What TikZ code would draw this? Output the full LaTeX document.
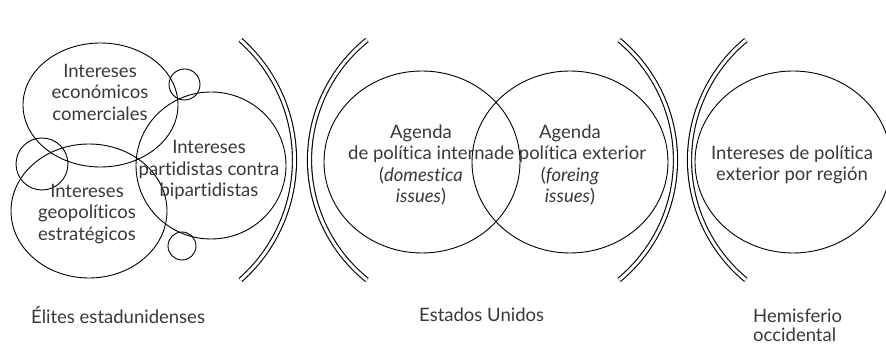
\documentclass[tikz,border=0pt]{standalone}
\usepackage{fontspec}
\setmainfont{Lato}[Ligatures=NoCommon]
\usepackage{tikz}

\begin{document}
\begin{tikzpicture}[x=1pt, y=-1pt,
    txt/.style={inner sep=0pt, align=center, text=black!78,
      font=\fontsize{18.5}{21.5}\selectfont},
    rotulo/.style={inner sep=0pt, align=left, text=black!78,
      font=\fontsize{18.5}{19}\selectfont},
    arco/.style={double, double distance=3pt, line width=1.1pt},
    circ/.style={line width=0.9pt}]
      \useasboundingbox (0, 0) rectangle (886, 344);
      \clip (0, 0) rectangle (886, 344);
      % elites
      \draw[circ] (100.5, 105) ellipse [x radius=77.5, y radius=62];
      \draw[circ] (211, 165.5) ellipse [x radius=75, y radius=73.5];
      \draw[circ] (89, 211) ellipse [x radius=78, y radius=67];
      \draw[circ] (184.5, 84.5) circle [radius=15.5];
      \draw[circ] (42, 164) circle [radius=26];
      \draw[circ] (182, 246) circle [radius=14];
      \node[txt] (econ) at (100, 92) {Intereses\\económicos\\comerciales};
      \node[txt] (partid) at (209, 170) {Intereses\\partidistas contra\\bipartidistas};
      \node[txt] (geo) at (87, 214) {Intereses\\geopolíticos\\estratégicos};
      % separadores
      \draw[arco] (134.2, 160) ++(-48.5:160.3) arc[start angle=-48.5, end angle=48.5, radius=160.3];
      \draw[arco] (463.5, 160) ++(231.2:154) arc[start angle=231.2, end angle=128.8, radius=154];
      \draw[arco] (519.8, 160) ++(-50.4:155.7) arc[start angle=-50.4, end angle=50.4, radius=155.7];
      \draw[arco] (845.2, 160) ++(230.4:155.7) arc[start angle=230.4, end angle=129.6, radius=155.7];
      % Estados Unidos
      \draw[circ] (422, 162) ellipse [x radius=98, y radius=91];
      \draw[circ] (570, 162) ellipse [x radius=98, y radius=91];
      \node[txt] (interna) at (421, 165) {Agenda\\de política interna\\(\textit{domestica}\\\textit{issues})};
      \node[txt] (exterior) at (570, 165) {Agenda\\de política exterior\\(\textit{foreing}\\\textit{issues})};
      % hemisferio
      \draw[circ] (793, 162) ellipse [x radius=98, y radius=91];
      \node[txt] (region) at (792, 165) {Intereses de política\\exterior por región};
      % rotulos
      \node[rotulo, anchor=base west] (elites) at (31, 324) {Élites estadunidenses};
      \node[rotulo, anchor=base west] (eeuu) at (419, 322) {Estados Unidos};
      \node[rotulo, anchor=west] (hemis) at (753, 325) {Hemisferio\\occidental};
\end{tikzpicture}
\end{document}
